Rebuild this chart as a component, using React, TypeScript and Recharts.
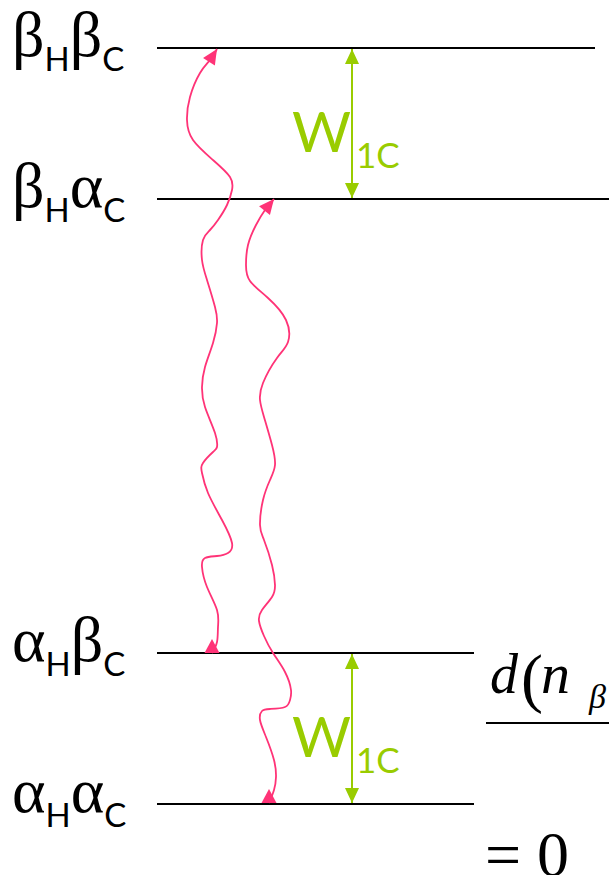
import React from "react";
import {
  ComposedChart,
  Line,
  ReferenceDot,
  ReferenceLine,
  XAxis,
  YAxis,
} from "recharts";

// energy levels, top to bottom (y grows downward on the reversed axis)
const levelLabels = ["βHβC", "βHαC", "αHβC", "αHαC"];
const levelValues = [48, 199, 653, 804];
const levelEnds = [595, 609, 474, 474];
const levelStart = 157;

// W1C double arrows between pairs of levels
const couplingX = 352;
const couplingPairs = [
  [0, 1],
  [2, 3],
];

// relaxation paths, from the lower level up to the upper one
const relaxPathA: [number, number][] = [
  [212, 653], [217, 642], [218, 627], [217, 610], [207, 587], [202, 567],
  [205, 558], [217, 556], [228, 553], [232, 543], [222, 520], [208, 493],
  [202, 473], [203, 463], [213, 452], [217, 447], [215, 433], [205, 407],
  [202, 387], [205, 367], [213, 343], [217, 323], [215, 307], [207, 280],
  [202, 260], [203, 240], [210, 230], [218, 220], [227, 205], [232, 190],
  [230, 177], [213, 160], [193, 140], [187, 120], [190, 97], [200, 73],
  [210, 60], [217, 49],
];
const relaxPathB: [number, number][] = [
  [269, 803], [274, 790], [276, 777], [274, 760], [266, 737], [260, 720],
  [262, 711], [270, 709], [285, 707], [290, 700], [291, 690], [285, 672],
  [273, 653], [264, 636], [259, 621], [262, 610], [272, 597], [275, 585],
  [272, 565], [264, 540], [260, 525], [263, 500], [270, 480], [275, 465],
  [272, 445], [264, 417], [260, 400], [263, 383], [277, 358], [288, 342],
  [286, 320], [268, 298], [250, 281], [246, 265], [248, 245], [256, 225],
  [265, 210], [274, 199],
];

// fraction on the right edge
const fractionY = 723;
const fractionStart = 486;

const pink = "#ff3377";
const green = "#99cc00";
const serif = "'Liberation Serif', 'Times New Roman', serif";
const sans = "Lato, 'Open Sans', sans-serif";

const toPoints = (path: [number, number][]) => path.map(([x, y]) => ({ x, y }));

const tri = (
  tx: number,
  ty: number,
  ux: number,
  uy: number,
  len: number,
  half: number,
  fill: string,
  key: string
) => {
  const bx = tx - ux * len;
  const by = ty - uy * len;
  const pts = `${tx},${ty} ${bx - uy * half},${by + ux * half} ${bx + uy * half},${by - ux * half}`;
  return <polygon key={key} points={pts} fill={fill} />;
};

const dirTo = (points: any[] | undefined, from: number, to: number, fallback: [number, number]) => {
  if (!points || !points[from] || !points[to]) return fallback;
  const dx = points[to].x - points[from].x;
  const dy = points[to].y - points[from].y;
  const n = Math.hypot(dx, dy) || 1;
  return [dx / n, dy / n] as [number, number];
};

const relaxDot = (props: any) => {
  const { cx, cy, index, points } = props;
  const last = points ? points.length - 1 : -1;
  if (index === 0) return tri(cx, cy - 14, 0, -1, 14, 7.5, pink, `s${index}`);
  if (index === last) {
    const [ux, uy] = dirTo(points, last - 1, last, [0, -1]);
    return tri(cx, cy, ux, uy, 15, 7, pink, `e${index}`);
  }
  return <g key={`n${index}`} />;
};

const couplingDot = (props: any) => {
  const { cx, cy, index, points } = props;
  if (index === 0) {
    const [ux, uy] = dirTo(points, 1, 0, [0, -1]);
    return tri(cx, cy, ux, uy, 15, 7, green, `a${index}`);
  }
  const [ux, uy] = dirTo(points, 0, 1, [0, 1]);
  return tri(cx, cy, ux, uy, 15, 7, green, `b${index}`);
};

const LevelTick = (props: any) => {
  const { x, y, payload } = props;
  const label = levelLabels[levelValues.indexOf(payload.value)] || "";
  return (
    <text x={x - 145} y={y + 8} fill="#000">
      <tspan fontFamily={serif} fontSize={64}>{label[0]}</tspan>
      <tspan fontFamily={sans} fontSize={33} dy={15}>{label[1]}</tspan>
      <tspan fontFamily={serif} fontSize={64} dy={-15}>{label[2]}</tspan>
      <tspan fontFamily={sans} fontSize={33} dy={15}>{label[3]}</tspan>
    </text>
  );
};

const CouplingLabel = (props: any) => {
  const { cx, cy } = props;
  return (
    <g>
      <text x={cx - 1} y={cy - 47} textAnchor="end" fontFamily={sans} fontSize={57} fill={green}>
        W
      </text>
      <text x={cx + 4} y={cy - 31} fontFamily={sans} fontSize={35} fill={green}>
        1C
      </text>
    </g>
  );
};

const FractionLabel = (props: any) => {
  const { cx, cy } = props;
  return (
    <g fill="#000" fontFamily={serif}>
      <text x={cx + 4} y={cy - 30} fontSize={56} fontStyle="italic">d</text>
      <text x={cx + 35} y={cy - 23} fontSize={66}>(</text>
      <text x={cx + 55} y={cy - 30} fontSize={58} fontStyle="italic">n</text>
      <text x={cx + 103} y={cy - 15} fontSize={34} fontStyle="italic">β</text>
      <text x={cx - 1} y={cy + 153} fontSize={64}>= 0</text>
    </g>
  );
};

const EnergyLevels = () => {
  return (
    <div style={{ position: "absolute", left: 0, top: 0, background: "#fff" }}>
      <ComposedChart width={609} height={875} margin={{ top: 0, right: 0, bottom: 0, left: 0 }}>
        <XAxis type="number" dataKey="x" domain={[levelStart, 609]} hide allowDataOverflow />
        <YAxis
          type="number"
          domain={[0, 875]}
          reversed
          allowDataOverflow
          ticks={levelValues}
          interval={0}
          width={levelStart}
          axisLine={false}
          tickLine={false}
          tickSize={0}
          tickMargin={0}
          tick={(p: any) => <LevelTick {...p} />}
        />
        {levelValues.map((v, i) => (
          <ReferenceLine
            key={levelLabels[i]}
            segment={[
              { x: levelStart, y: v },
              { x: levelEnds[i], y: v },
            ]}
            stroke="#000"
            strokeWidth={2}
          />
        ))}
        <ReferenceLine
          segment={[
            { x: fractionStart, y: fractionY },
            { x: 609, y: fractionY },
          ]}
          stroke="#000"
          strokeWidth={2}
        />
        <ReferenceDot x={fractionStart} y={fractionY} r={0} shape={FractionLabel} />
        {couplingPairs.map(([a, b]) => (
          <Line
            key={`w${a}`}
            data={[
              { x: couplingX, y: levelValues[a] + 1 },
              { x: couplingX, y: levelValues[b] - 1 },
            ]}
            dataKey="y"
            type="linear"
            stroke={green}
            strokeWidth={2}
            dot={couplingDot}
            activeDot={false}
            isAnimationActive={false}
          />
        ))}
        {couplingPairs.map(([a, b]) => (
          <ReferenceDot key={`l${a}`} x={couplingX} y={levelValues[b]} r={0} shape={CouplingLabel} />
        ))}
        {[relaxPathA, relaxPathB].map((path, i) => (
          <Line
            key={`r${i}`}
            data={toPoints(path)}
            dataKey="y"
            type="natural"
            stroke={pink}
            strokeWidth={1.8}
            dot={relaxDot}
            activeDot={false}
            isAnimationActive={false}
          />
        ))}
      </ComposedChart>
    </div>
  );
};

export default function App() {
  return <EnergyLevels />;
}
